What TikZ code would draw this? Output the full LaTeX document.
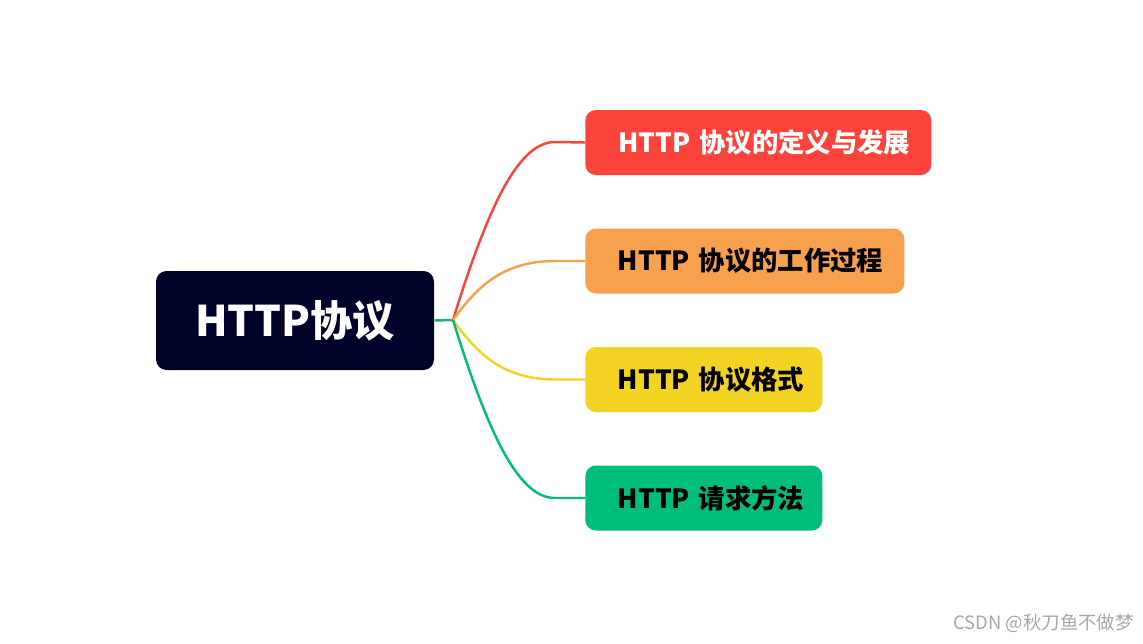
\documentclass[tikz,border=0pt]{standalone}
\usepackage{fontspec}
\setmainfont{Noto Sans CJK SC}
\newfontfamily\cjkb{Noto Sans CJK SC Bold}
\definecolor{cRoot}{HTML}{000229}
\definecolor{cRed}{HTML}{F9433B}
\definecolor{cOrange}{HTML}{F7A04D}
\definecolor{cYellow}{HTML}{F2D323}
\definecolor{cGreen}{HTML}{00BE78}
\definecolor{cHub}{HTML}{1FA88A}
\begin{document}
\begin{tikzpicture}[x=0.02cm,y=-0.02cm,
  child/.style={rounded corners=6pt,anchor=west,inner sep=0pt,font=\fontsize{15}{18}\selectfont\bfseries,minimum height=65*0.02cm,align=left},
  br/.style={line width=1.4pt}]
\useasboundingbox (0,0) rectangle (1143,643);
\node[fill=cRoot,rounded corners=6pt,minimum width=278*0.02cm,minimum height=99*0.02cm,text=white,font=\fontsize{24}{28}\selectfont\bfseries] (root) at (295,320.5) {HTTP协议};
\coordinate (hub) at (453,320);
\node[child,fill=cRed,text=white,minimum width=346*0.02cm,text width=318*0.02cm] (c1) at (585,142.5) {\hspace*{27\pgflinewidth}HTTP 协议的定义与发展};
\node[child,fill=cOrange,text=black,minimum width=319*0.02cm,text width=292*0.02cm] (c2) at (585,261) {\hspace*{27\pgflinewidth}HTTP 协议的工作过程};
\node[child,fill=cYellow,text=black,minimum width=237*0.02cm,text width=210*0.02cm] (c3) at (585,379.5) {\hspace*{27\pgflinewidth}HTTP 协议格式};
\node[child,fill=cGreen,text=black,minimum width=237*0.02cm,text width=210*0.02cm] (c4) at (585,498) {\hspace*{27\pgflinewidth}HTTP 请求方法};
\draw[br,cHub] (root.east) -- (hub);
\draw[br,cRed] (hub) .. controls (490,200) and (520,142) .. (555,142) -- (c1.west);
\draw[br,cOrange] (hub) .. controls (475,290) and (500,261) .. (555,261) -- (c2.west);
\draw[br,cYellow] (hub) .. controls (475,350) and (500,379.5) .. (555,379.5) -- (c3.west);
\draw[br,cGreen] (hub) .. controls (490,440) and (520,498) .. (555,498) -- (c4.west);
\node[anchor=east,text=black!35,font=\fontsize{10.5}{12}\selectfont] (wm) at (1140,623) {CSDN @秋刀鱼不做梦};
\end{tikzpicture}
\end{document}
